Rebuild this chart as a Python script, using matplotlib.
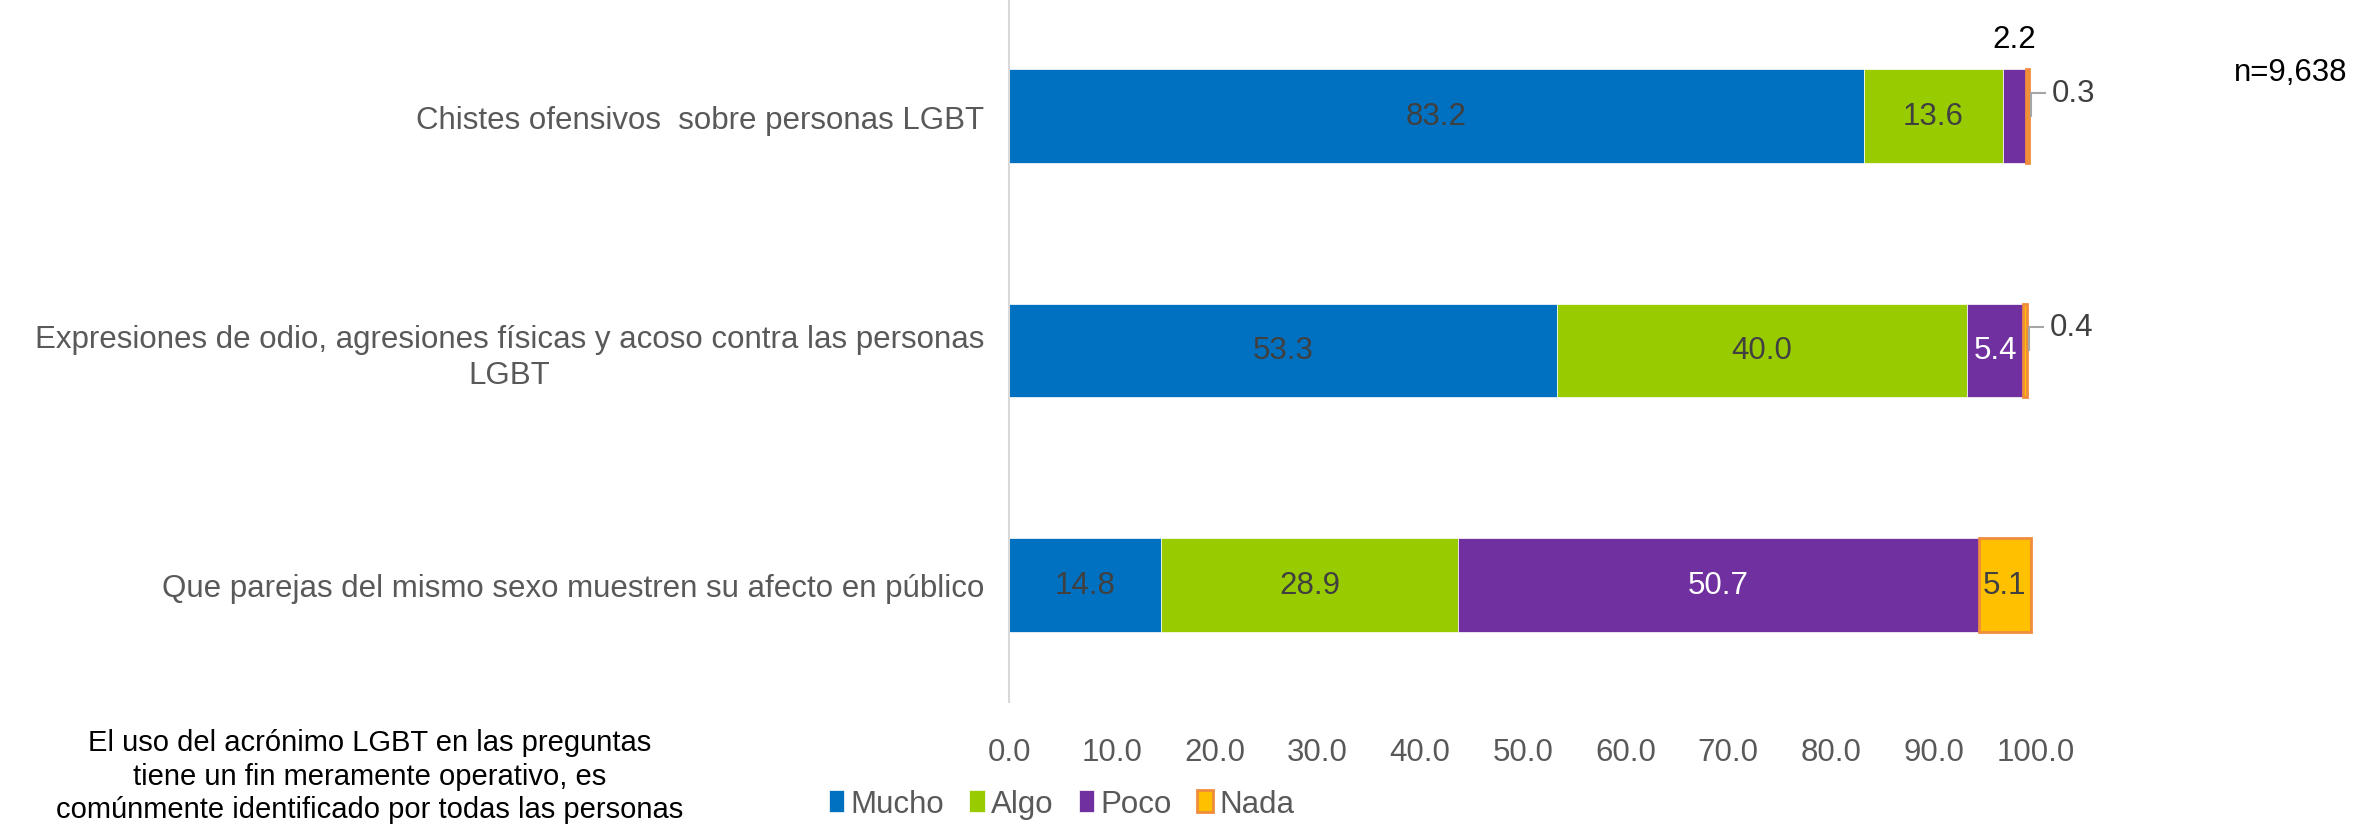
import numpy as np
import matplotlib.pyplot as plt

plt.rcParams['font.family'] = ['Liberation Sans', 'DejaVu Sans']

categories = [
    "Chistes ofensivos  sobre personas LGBT",
    "Expresiones de odio, agresiones físicas y acoso contra las personas\nLGBT",
    "Que parejas del mismo sexo muestren su afecto en público",
]
series_names = ["Mucho", "Algo", "Poco", "Nada"]
mucho = [83.2, 53.3, 14.8]
algo = [13.6, 40.0, 28.9]
poco = [2.2, 5.4, 50.7]
nada = [0.3, 0.4, 5.1]
ticks = [0, 10, 20, 30, 40, 50, 60, 70, 80, 90, 100]

colors = ["#0070C0", "#99CC00", "#7030A0", "#FFC000"]
label_colors = {"Mucho": "#404040", "Algo": "#404040", "Poco": "#FFFFFF", "Nada": "#404040"}
fs = 22.5

fig = plt.figure(figsize=(23.69, 8.29), dpi=100)
ax = fig.add_axes([0.426, 0.152, 0.4335, 0.848])

y = np.arange(len(categories))
left = np.zeros(len(categories))
for name, vals, col in zip(series_names, [mucho, algo, poco, nada], colors):
    vals = np.array(vals)
    if name == "Nada":
        ax.barh(y, vals, left=left, height=0.4, color=col, edgecolor="#F08C3C", linewidth=2, label=name)
    else:
        ax.barh(y, vals, left=left, height=0.4, color=col, edgecolor="white", linewidth=0.5, label=name)
    for i, v in enumerate(vals):
        cx = left[i] + v / 2
        if v >= 5:
            ax.text(cx, i, f"{v:.1f}", ha="center", va="center", fontsize=fs, color=label_colors[name])
        elif name == "Poco":
            ax.text(cx, i - 0.33, f"{v:.1f}", ha="center", va="center", fontsize=fs, color="black")
        else:
            end = left[i] + v
            ax.plot([end + 0.2, end + 0.2, end + 1.6], [i, i - 0.1, i - 0.1], color="#A6A6A6", lw=1.5,
                    clip_on=False)
            ax.text(end + 2.2, i - 0.1, f"{v:.1f}", ha="left", va="center", fontsize=fs, color="#404040")
    left = left + vals

ax.set_xlim(0, 100)
ax.set_ylim(2.5, -0.5)
ax.set_yticks(y)
ax.set_yticklabels(categories, fontsize=fs, color="#595959", multialignment="center", linespacing=1.25)
ax.set_xticks(ticks)
ax.set_xticklabels([f"{t:.1f}" for t in ticks], fontsize=fs, color="#595959")
ax.tick_params(axis="y", length=0, pad=18)
ax.tick_params(axis="x", length=0, pad=25)
for s in ["top", "right", "bottom"]:
    ax.spines[s].set_visible(False)
ax.spines["left"].set_color("#D9D9D9")
ax.spines["left"].set_linewidth(1.5)

fig.legend(loc="center", bbox_to_anchor=(0.448, 0.029), ncol=4, frameon=False, fontsize=fs,
           handlelength=0.5, handleheight=0.7, handletextpad=0.2, columnspacing=0.8, labelcolor="#595959")

fig.text(0.967, 0.912, "n=9,638", ha="center", va="center", fontsize=fs, color="black")
fig.text(0.156, 0.006,
         "El uso del acrónimo LGBT en las preguntas\ntiene un fin meramente operativo, es\ncomúnmente identificado por todas las personas",
         ha="center", va="bottom", fontsize=21, color="black", linespacing=1.25)

fig.savefig("out.png", dpi=100)
